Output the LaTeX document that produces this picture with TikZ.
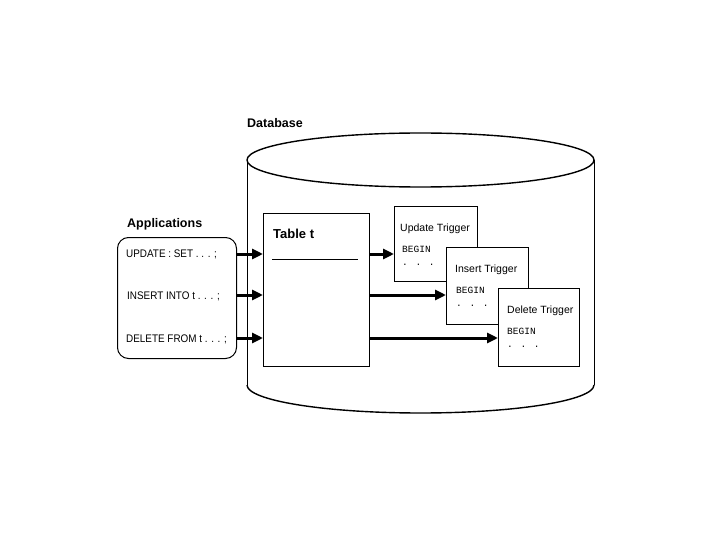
\documentclass[tikz,border=0pt]{standalone}
\usepackage{fontspec}
\setmainfont{Liberation Sans}
\newfontfamily\condfont[FakeStretch=0.9]{Liberation Sans}
\newfontfamily\codefont{Liberation Mono}
\usetikzlibrary{arrows.meta,calc}
\begin{document}
\begin{tikzpicture}[x=1pt,y=-1pt,
  lbl/.style={anchor=base west, inner sep=0pt, font=\bfseries\fontsize{12.5}{14}\selectfont},
  stmt/.style={anchor=base west, inner sep=0pt, font=\condfont\fontsize{11}{13}\selectfont},
  ttl/.style={anchor=base west, inner sep=0pt, font=\fontsize{10.5}{12}\selectfont},
  code/.style={anchor=base west, inner sep=0pt, font=\codefont\fontsize{9.5}{11}\selectfont},
  box/.style={draw, line width=0.8pt, fill=white, anchor=north west, inner sep=0pt},
  flow/.style={line width=3pt, -{Triangle[length=11pt,width=10pt]}},
  rim/.style={line width=1.4pt}]
\useasboundingbox (0,0) rectangle (720,540);
% database cylinder
\draw[line width=0.8pt] (247,160) -- (247,385);
\draw[line width=0.8pt] (594,160) -- (594,385);
\draw[rim, fill=white] (420.5,160) ellipse [x radius=173.5, y radius=27];
\draw[rim] (247,385) arc[start angle=180, end angle=0, x radius=173.5, y radius=28];
\node[lbl] (dblabel) at (247,128) {Database};
% applications
\node[lbl] (applabel) at (127,227) {Applications};
\node[box, rounded corners=11pt, line width=1pt, minimum width=119, minimum height=121] (apps) at (117,237) {};
\node[stmt] (upd) at (126,258) {UPDATE : SET . . . ;};
\node[stmt] (ins) at (127,299) {INSERT INTO t . . . ;};
\node[stmt] (del) at (126,342) {DELETE FROM t . . . ;};
\coordinate (r1) at (0,254);
\coordinate (r2) at (0,295);
\coordinate (r3) at (0,338);
% table
\node[box, minimum width=106, minimum height=153] (tab) at (263,213) {};
\node[lbl, font=\bfseries\fontsize{13}{15}\selectfont] (tabtitle) at (273,238) {Table t};
\draw[line width=0.8pt] ($(tab.north west)+(9,46)$) coordinate (l1) -- ($(tab.north east)+(-12,46)$) coordinate (l2);
% triggers
\node[box, minimum width=83, minimum height=75] (utrig) at (394,206) {};
\node[ttl] (utitle) at (400,231) {Update Trigger};
\node[code] (ubegin) at (402,252) {BEGIN};
\node[code] (udots) at (402,265) {. . .};
\node[box, minimum width=82, minimum height=77] (itrig) at (446,247) {};
\node[ttl] (ititle) at (455,272) {Insert Trigger};
\node[code] (ibegin) at (456,293) {BEGIN};
\node[code] (idots) at (456,306) {. . .};
\node[box, minimum width=81, minimum height=78] (dtrig) at (498,288) {};
\node[ttl] (dtitle) at (507,313) {Delete Trigger};
\node[code] (dbegin) at (507,334) {BEGIN};
\node[code] (ddots) at (507,347) {. . .};
% connectors
\draw[flow] (apps.east |- r1) -- (tab.west |- r1);
\draw[flow] (apps.east |- r2) -- (tab.west |- r2);
\draw[flow] (apps.east |- r3) -- (tab.west |- r3);
\draw[flow] (tab.east |- r1) -- (utrig.west |- r1);
\draw[flow] (tab.east |- r2) -- (itrig.west |- r2);
\draw[flow] (tab.east |- r3) -- (dtrig.west |- r3);
\end{tikzpicture}
\end{document}
